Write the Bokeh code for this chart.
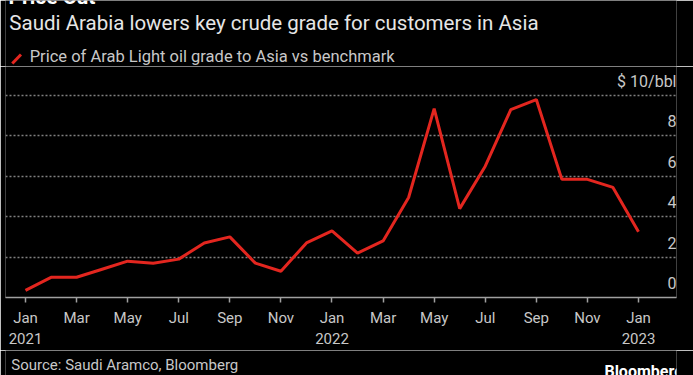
from bokeh.plotting import figure
from bokeh.layouts import column
from bokeh.models import FixedTicker, LinearAxis, Grid, Range1d
from bokeh.core.properties import value
from bokeh.embed import file_html
from bokeh.resources import INLINE

W = 693
HEAD_H, MAIN_H, FOOT_H = 66, 284, 25

# Months since Jan 2021 (0 = Jan 2021, 24 = Jan 2023)
month_idx = list(range(25))
prices = [0.35, 1.0, 1.0, 1.4, 1.8, 1.7, 1.9, 2.7, 3.0, 1.7, 1.3, 2.7,
          3.3, 2.2, 2.8, 4.95, 9.35, 4.4, 6.5, 9.3, 9.8, 5.85, 5.85, 5.45,
          3.25]

month_ticks = list(range(0, 25, 2))
month_labels = ["Jan", "Mar", "May", "Jul", "Sep", "Nov",
                "Jan", "Mar", "May", "Jul", "Sep", "Nov", "Jan"]
year_ticks = [0, 12, 24]
year_labels = ["2021", "2022", "2023"]
y_ticks = [0, 2, 4, 6, 8, 10]
y_labels = ["0", "2", "4", "6", "8", "$ 10/bbl"]
grid_ticks = [2, 4, 6, 8, 10]

title = "Price Cut"
subtitle = "Saudi Arabia lowers key crude grade for customers in Asia"
legend_text = "Price of Arab Light oil grade to Asia vs benchmark"
source = "Source: Saudi Aramco, Bloomberg"
brand = "Bloomberg"

X0, X1 = -0.783, 25.488
Y0, Y1 = 0, 11.436

TXT = "#c8c8c8"
RED = "#e3261f"
FONT = "Roboto"


def blank(h):
    f = figure(width=W, height=h, output_backend="svg", toolbar_location=None,
               x_range=Range1d(0, W), y_range=Range1d(h, 0),
               x_axis_location=None, y_axis_location=None,
               min_border=0, min_border_left=0, min_border_right=0,
               min_border_top=0, min_border_bottom=0)
    f.background_fill_color = "black"
    f.border_fill_color = "black"
    f.outline_line_color = None
    for g in f.grid:
        g.visible = False
    return f


# ---- header ----
head = blank(HEAD_H)
head.text(x=[3], y=[-4], text=[title], text_font=value(FONT), text_font_style="bold",
          text_font_size="21px", text_color="white", text_baseline="alphabetic")
head.text(x=[4], y=[22.5], text=[subtitle], text_font=value(FONT),
          text_font_size="20.5px", text_color="#e6e6e6", text_baseline="alphabetic")
head.line(x=[7, 16], y=[63, 54], line_color=RED, line_width=3)
head.text(x=[25], y=[55.5], text=[legend_text], text_font=value(FONT),
          text_font_size="16.5px", text_color=TXT, text_baseline="alphabetic")

# ---- main chart ----
p = figure(width=W, height=MAIN_H, output_backend="svg", toolbar_location=None,
           x_range=Range1d(X0, X1), y_range=Range1d(Y0, Y1),
           y_axis_location=None,
           min_border_left=5, min_border_right=17,
           min_border_top=0, min_border_bottom=53)
p.background_fill_color = "black"
p.border_fill_color = "black"
p.outline_line_color = None
for g in p.grid:
    g.visible = False

grid = Grid(dimension=1, ticker=FixedTicker(ticks=grid_ticks),
            grid_line_color="#808080", grid_line_dash="2 2", grid_line_width=1.5)
p.add_layout(grid, "center")

ax = p.xaxis[0]
ax.ticker = FixedTicker(ticks=month_ticks)
ax.major_label_overrides = {t: l for t, l in zip(month_ticks, month_labels)}
ax.axis_line_color = "#a0a0a0"
ax.axis_line_width = 1.5
ax.major_tick_line_color = "#a0a0a0"
ax.major_tick_line_width = 1.5
ax.major_tick_out = 5
ax.major_tick_in = 0
ax.minor_tick_line_color = None
ax.major_label_standoff = 6
ax.major_label_text_font = FONT
ax.major_label_text_font_size = "15px"
ax.major_label_text_color = TXT

ax2 = LinearAxis(ticker=FixedTicker(ticks=year_ticks),
                 major_label_overrides={t: l for t, l in zip(year_ticks, year_labels)})
ax2.axis_line_color = None
ax2.major_tick_line_color = None
ax2.minor_tick_line_color = None
ax2.major_tick_out = 0
ax2.major_tick_in = 0
ax2.major_label_standoff = 3
ax2.major_label_text_font = FONT
ax2.major_label_text_font_size = "15px"
ax2.major_label_text_color = TXT
p.add_layout(ax2, "below")

p.line(month_idx, prices, color=RED, line_width=3)

p.text(x=[X1] * len(y_ticks), y=y_ticks, text=y_labels,
       text_align="right", text_baseline="alphabetic", y_offset=-14.5,
       text_font=value(FONT), text_font_size="16px", text_color=TXT)

# ---- footer ----
foot = blank(FOOT_H)
foot.text(x=[6], y=[14.5], text=[source], text_font=value(FONT),
          text_font_size="15px", text_color=TXT, text_baseline="alphabetic")
foot.text(x=[700], y=[21], text=[brand], text_font=value(FONT), text_font_style="bold",
          text_font_size="16px", text_color="white", text_align="right",
          text_baseline="alphabetic")

layout = column(head, p, foot, spacing=0)
open("out.html", "w").write(file_html(layout, INLINE))
